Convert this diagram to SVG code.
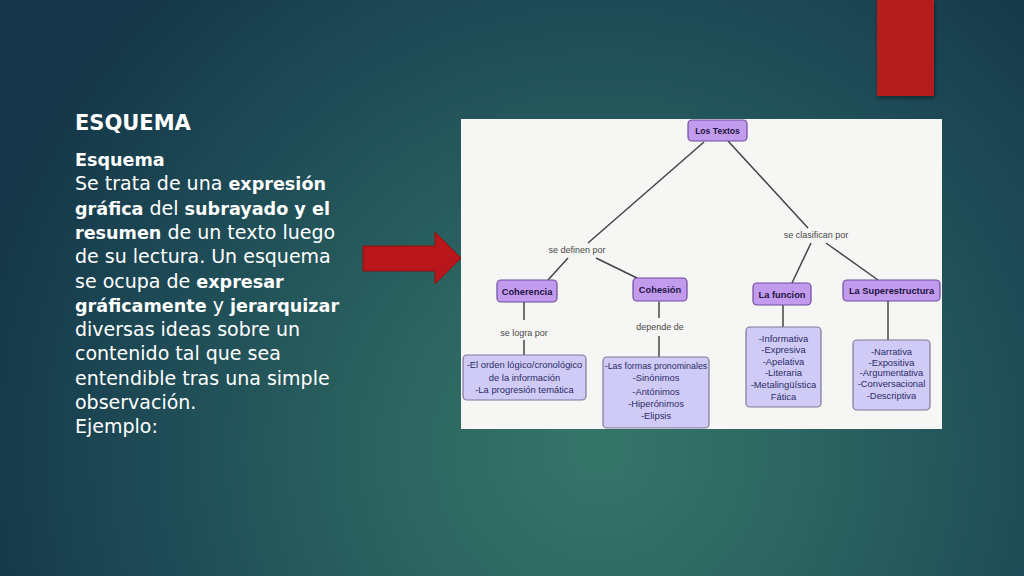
<svg xmlns="http://www.w3.org/2000/svg" width="1024" height="576" viewBox="0 0 1024 576">
  <defs>
    <radialGradient id="bg" gradientUnits="userSpaceOnUse" cx="600" cy="450" r="640">
      <stop offset="0" stop-color="#367669"/>
      <stop offset="0.35" stop-color="#2b6360"/>
      <stop offset="0.7" stop-color="#1e4b56"/>
      <stop offset="1" stop-color="#153749"/>
    </radialGradient>
    <filter id="sh" x="-20%" y="-20%" width="140%" height="140%">
      <feDropShadow dx="1" dy="2" stdDeviation="2" flood-color="#000" flood-opacity="0.45"/>
    </filter>
  </defs>
  <style>
    .body { font-family: "DejaVu Sans", "Liberation Sans", sans-serif; font-size: 19px; fill: #ffffff; }
    .b { font-weight: bold; font-size: 17.6px; }
    .title { font-family: "DejaVu Sans", "Liberation Sans", sans-serif; font-size: 21px; font-weight: bold; fill: #ffffff; }
    .hdr rect { fill: #c39bee; stroke: #6f4b9c; stroke-width: 1.2; }
    .hdr text { font-family: "Liberation Sans", Arial, sans-serif; font-size: 9.3px; font-weight: bold; fill: #1c1440; text-anchor: middle; }
    .box rect { fill: #d0cbf6; stroke: #7d7997; stroke-width: 1.2; }
    .box text { font-family: "Liberation Sans", Arial, sans-serif; font-size: 9.4px; fill: #2b2b66; text-anchor: middle; }
    .lbl { font-family: "Liberation Sans", Arial, sans-serif; font-size: 9px; fill: #4a4a4a; text-anchor: middle; }
    .conn line { stroke: #444444; stroke-width: 1.5; }
  </style>

  <rect x="0" y="0" width="1024" height="576" fill="url(#bg)"/>

  <!-- red bar top right -->
  <rect id="redbar" x="877" y="0" width="57" height="96" fill="#b51b1a" filter="url(#sh)"/>

  <!-- left text -->
  <g id="text-block">
    <text class="title" x="75" y="130">ESQUEMA</text>
    <text class="body" x="75" y="166"><tspan class="b">Esquema</tspan></text>
    <text class="body" x="75" y="190.3">Se trata de una <tspan class="b">expresión</tspan></text>
    <text class="body" x="75" y="214.6"><tspan class="b">gráfica</tspan> del <tspan class="b">subrayado y el</tspan></text>
    <text class="body" x="75" y="238.9"><tspan class="b">resumen</tspan> de un texto luego</text>
    <text class="body" x="75" y="263.2">de su lectura. Un esquema</text>
    <text class="body" x="75" y="287.5">se ocupa de <tspan class="b">expresar</tspan></text>
    <text class="body" x="75" y="311.8"><tspan class="b">gráficamente</tspan> y <tspan class="b">jerarquizar</tspan></text>
    <text class="body" x="75" y="336.1">diversas ideas sobre un</text>
    <text class="body" x="75" y="360.4">contenido tal que sea</text>
    <text class="body" x="75" y="384.7">entendible tras una simple</text>
    <text class="body" x="75" y="409">observación.</text>
    <text class="body" x="75" y="433.3">Ejemplo:</text>
  </g>

  <!-- red arrow -->
  <polygon id="arrow" points="363,246 435,246 435,232 461,258 435,284 435,271 363,271" fill="#b8161a" stroke="#8a1212" stroke-width="1"/>

  <!-- diagram image area -->
  <rect id="diagram-bg" x="461" y="119" width="481" height="310" fill="#f6f6f4"/>

  <g class="conn" id="connectors">
    <line x1="704" y1="142" x2="588" y2="243"/>
    <line x1="728" y1="141" x2="808" y2="228"/>
    <line x1="568" y1="258" x2="548" y2="280"/>
    <line x1="596" y1="258" x2="637" y2="278"/>
    <line x1="811" y1="243" x2="792" y2="283"/>
    <line x1="826" y1="243" x2="878" y2="280"/>
    <line x1="524" y1="302" x2="524" y2="320"/>
    <line x1="524" y1="340" x2="524" y2="355"/>
    <line x1="659" y1="301.5" x2="659" y2="318"/>
    <line x1="659" y1="336" x2="659" y2="357"/>
    <line x1="783" y1="305" x2="783" y2="327"/>
    <line x1="888" y1="301" x2="888" y2="340"/>
  </g>

  <g id="labels">
    <text class="lbl" x="577" y="253">se definen por</text>
    <text class="lbl" x="816" y="238">se clasifican por</text>
    <text class="lbl" x="524" y="336">se logra por</text>
    <text class="lbl" x="660" y="330">depende de</text>
  </g>

  <g id="los-textos" class="hdr">
    <rect x="688" y="120" width="59" height="21" rx="4"/>
    <text x="717.5" y="134" style="font-size:8.6px">Los Textos</text>
  </g>
  <g id="coherencia" class="hdr">
    <rect x="497" y="280" width="60" height="22" rx="4"/>
    <text x="527" y="294.5">Coherencia</text>
  </g>
  <g id="cohesion" class="hdr">
    <rect x="633" y="278" width="54" height="23" rx="4"/>
    <text x="660" y="293">Cohesión</text>
  </g>
  <g id="la-funcion" class="hdr">
    <rect x="753" y="283" width="58" height="22" rx="4"/>
    <text x="782" y="297.5">La funcion</text>
  </g>
  <g id="la-superestructura" class="hdr">
    <rect x="843" y="280" width="97" height="21" rx="4"/>
    <text x="891.5" y="294">La Superestructura</text>
  </g>

  <g id="box-coherencia" class="box">
    <rect x="463" y="355" width="123" height="45" rx="4"/>
    <text x="524.5" y="368">-El orden lógico/cronológico</text>
    <text x="524.5" y="380.5">de la información</text>
    <text x="524.5" y="392.5">-La progresión temática</text>
  </g>
  <g id="box-cohesion" class="box">
    <rect x="603" y="357" width="106" height="71" rx="4"/>
    <text x="656" y="368.5" style="font-size:8.9px">-Las formas pronominales</text>
    <text x="656" y="381">-Sinónimos</text>
    <text x="656" y="394.5">-Antónimos</text>
    <text x="656" y="407">-Hiperónimos</text>
    <text x="656" y="419">-Elipsis</text>
  </g>
  <g id="box-funcion" class="box">
    <rect x="746" y="327" width="75" height="80" rx="4"/>
    <text x="783.5" y="341.5">-Informativa</text>
    <text x="783.5" y="353">-Expresiva</text>
    <text x="783.5" y="364.5">-Apelativa</text>
    <text x="783.5" y="376">-Literaria</text>
    <text x="783.5" y="387.5">-Metalingüística</text>
    <text x="783.5" y="399.5">Fática</text>
  </g>
  <g id="box-superestructura" class="box">
    <rect x="853" y="340" width="77" height="70" rx="4"/>
    <text x="891.5" y="354.5">-Narrativa</text>
    <text x="891.5" y="365.5">-Expositiva</text>
    <text x="891.5" y="376">-Argumentativa</text>
    <text x="891.5" y="387">-Conversacional</text>
    <text x="891.5" y="398.5">-Descriptiva</text>
  </g>
</svg>
